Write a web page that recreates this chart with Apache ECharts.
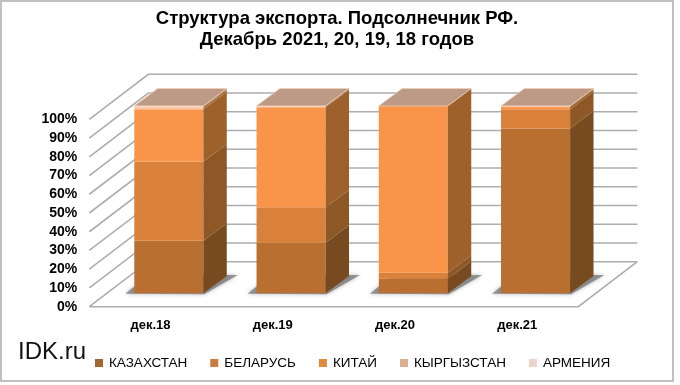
<!DOCTYPE html>
<html>
<head>
<meta charset="utf-8">
<style>html,body{margin:0;padding:0;background:#fff}#chart{width:680px;height:385px}</style>
<script src="https://cdn.jsdelivr.net/npm/echarts@6/dist/echarts.min.js"></script>
</head>
<body>
<div id="chart"></div>
<script>
var categories = ['дек.18', 'дек.19', 'дек.20', 'дек.21'];
var yTicks = [0, 10, 20, 30, 40, 50, 60, 70, 80, 90, 100];
var names = ['КАЗАХСТАН', 'БЕЛАРУСЬ', 'КИТАЙ', 'КЫРГЫЗСТАН', 'АРМЕНИЯ'];
var kazakhstan = [28, 27, 7.8, 88];
var belarus = [42.3, 18.9, 3.2, 10.2];
var china = [27.9, 53.4, 89, 1.3];
var kyrgyzstan = [1.2, 0.5, 0, 0.4];
var armenia = [0.6, 0.2, 0, 0.1];

var frontColors = ['#b96f30', '#d9803a', '#f9954a', '#ffc7a4', '#ffe3d6'];
var sideColors = ['#784a1f', '#8d5826', '#9f612b', '#a8703f', '#b07a4c'];
var legendColors = ['#a3652f', '#c97c3d', '#e08a3c', '#dcae92', '#ecd4c8'];

// 3d look: depth of the whole box and of a bar
var wallDx = 59, wallDy = -45;
var barDx = 18.4, barDy = -13.4;
var depthDx = 23.4, depthDy = -17.4;
var barRatio = 0.565;
var lineColor = '#adadad';

function wallLine(points) {
    return {
        type: 'polyline',
        shape: { points: points },
        style: { fill: null, stroke: lineColor, lineWidth: 1.6 },
        silent: true
    };
}

function renderWall(params, api) {
    var cs = params.coordSys;
    var p = api.coord([0, api.value(0)]);
    var y = p[1], xl = cs.x, xr = cs.x + cs.width;
    var children = [wallLine([[xl, y], [xl + wallDx, y + wallDy], [xr + wallDx, y + wallDy]])];
    if (api.value(0) === 0) {
        children.push(wallLine([[xl, y], [xr, y], [xr + wallDx, y + wallDy]]));
    }
    return { type: 'group', children: children };
}

function renderShadow(params, api) {
    var c = api.coord([api.value(0), 0]);
    var w = api.size([1, 0])[0] * barRatio;
    var x0 = c[0] - w / 2 + barDx, x1 = x0 + w, y = c[1] + barDy;
    return {
        type: 'polygon',
        shape: { points: [
            [x0 - 9, y + 0.5], [x1 + 1, y + 1],
            [x1 + depthDx + 11, y + depthDy - 1], [x0 + depthDx - 9, y + depthDy - 1]
        ] },
        style: { fill: 'rgba(105,105,105,0.65)', shadowBlur: 4, shadowColor: 'rgba(110,110,110,0.7)' },
        silent: true
    };
}

function makeRender(k, withTop) {
    return function (params, api) {
        var bottom = api.coord([api.value(0), api.value(1)]);
        var top = api.coord([api.value(0), api.value(2)]);
        var w = api.size([1, 0])[0] * barRatio;
        var x0 = bottom[0] - w / 2 + barDx, x1 = x0 + w;
        var yb = bottom[1] + barDy, yt = top[1] + barDy;
        var children = [
            {
                type: 'rect',
                shape: { x: x0, y: yt, width: w, height: yb - yt },
                style: { fill: frontColors[k] }
            },
            {
                type: 'polygon',
                shape: { points: [[x1, yb], [x1 + depthDx, yb + depthDy], [x1 + depthDx, yt + depthDy], [x1, yt]] },
                style: { fill: sideColors[k] }
            }
        ];
        if (withTop) {
            children.push({
                type: 'polygon',
                shape: { points: [[x0, yt], [x1, yt], [x1 + depthDx, yt + depthDy], [x0 + depthDx, yt + depthDy]] },
                style: { fill: '#bd9a85', stroke: 'rgba(235,205,185,0.8)', lineWidth: 1 }
            });
        }
        return { type: 'group', children: children, silent: true };
    };
}

var valueLists = [kazakhstan, belarus, china, kyrgyzstan, armenia];
var base = categories.map(function () { return 0; });

var series = [
    {
        type: 'custom',
        renderItem: renderWall,
        data: yTicks.map(function (t) { return [t]; }),
        encode: { y: 0 },
        silent: true
    },
    {
        type: 'custom',
        renderItem: renderShadow,
        data: categories.map(function (c, i) { return [i]; }),
        encode: { x: 0 },
        silent: true
    }
];
names.forEach(function (name, k) {
    var items = valueLists[k].map(function (v, i) {
        var item = [i, base[i], base[i] + v];
        base[i] += v;
        return item;
    });
    series.push({
        name: name,
        type: 'custom',
        renderItem: makeRender(k, k === names.length - 1),
        data: items,
        encode: { x: 0, y: [1, 2] },
        itemStyle: { color: legendColors[k] },
        silent: true
    });
});

var myChart = echarts.init(document.getElementById('chart'));
var option = {
    animation: false,
    backgroundColor: '#fff',
    title: {
        text: 'Структура экспорта. Подсолнечник РФ.\nДекабрь 2021, 20, 19, 18 годов',
        left: 332,
        top: 3,
        textAlign: 'center',
        textStyle: {
            fontFamily: 'Liberation Sans',
            fontSize: 18.5,
            fontWeight: 'bold',
            color: '#000',
            lineHeight: 21
        }
    },
    graphic: [
        {
            type: 'rect',
            shape: { x: 1, y: 1, width: 672, height: 380 },
            style: { fill: null, stroke: '#c0c0c0', lineWidth: 2 },
            silent: true
        },
        {
            type: 'text',
            left: 18,
            top: 340,
            style: { text: 'IDK.ru', fill: '#111', font: '24px "Liberation Sans"' },
            silent: true
        }
    ],
    legend: {
        data: names,
        left: 90,
        top: 351,
        icon: 'rect',
        itemWidth: 8,
        itemHeight: 8,
        itemGap: 23,
        selectedMode: false,
        textStyle: {
            fontFamily: 'Liberation Sans',
            fontSize: 13.5,
            color: '#000',
            padding: [0, 0, 0, 1]
        }
    },
    grid: { left: 89.3, top: 119.3, width: 489, height: 187.4 },
    xAxis: {
        type: 'category',
        data: categories,
        axisLine: { show: false },
        axisTick: { show: false },
        axisLabel: {
            margin: 12,
            fontFamily: 'Liberation Sans',
            fontSize: 13,
            fontWeight: 'bold',
            color: '#000'
        }
    },
    yAxis: {
        type: 'value',
        min: 0,
        max: 100,
        interval: 10,
        axisLine: { show: false },
        axisTick: { show: false },
        splitLine: { show: false },
        axisLabel: {
            margin: 12,
            formatter: '{value}%',
            fontFamily: 'Liberation Sans',
            fontSize: 14,
            fontWeight: 'bold',
            color: '#000'
        }
    },
    series: series
};
myChart.setOption(option);
window.addEventListener('resize', function () {
    myChart.resize();
});
</script>
</body>
</html>
